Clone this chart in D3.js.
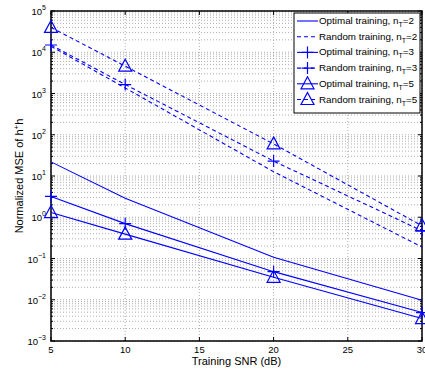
<!DOCTYPE html>
<html>
<head>
<meta charset="utf-8">
<script src="https://cdn.jsdelivr.net/npm/d3@7"></script>
<style>
  body { margin: 0; background: #fff; }
  svg { display: block; font-family: "Liberation Sans", Arial, sans-serif; }
</style>
</head>
<body>
<div id="chart"></div>
<script>
// SNR points (dB)
const snr = [5, 10, 20, 30];
// normalized MSE values
const optimal2 = [22, 2.9, 0.107, 0.0097];
const random2 = [14000, 1360, 12.7, 0.19];
const optimal3 = [3.2, 0.7, 0.048, 0.0049];
const random3 = [15000, 1650, 23, 0.47];
const optimal5 = [1.3, 0.39, 0.035, 0.0035];
const random5 = [40000, 4600, 60, 0.62];
const xTicks = [5, 10, 15, 20, 25, 30];
const yExps = [-3, -2, -1, 0, 1, 2, 3, 4, 5];

const series = [
  {name: 'Optimal training, n', nt: '2', values: optimal2, dash: null, marker: null},
  {name: 'Random training, n', nt: '2', values: random2, dash: '4,3', marker: null},
  {name: 'Optimal training, n', nt: '3', values: optimal3, dash: null, marker: 'plus'},
  {name: 'Random training, n', nt: '3', values: random3, dash: '4,3', marker: 'plus'},
  {name: 'Optimal training, n', nt: '5', values: optimal5, dash: null, marker: 'tri'},
  {name: 'Random training, n', nt: '5', values: random5, dash: '4,3', marker: 'tri'}
];

const W = 425, H = 376;
const margin = {top: 11, right: 3, bottom: 35, left: 51};
const blue = '#0000ff';

const svg = d3.select('#chart').append('svg')
  .attr('width', W).attr('height', H);

const x = d3.scaleLinear().domain([5, 30]).range([margin.left, W - margin.right]);
const y = d3.scaleLog().domain([1e-3, 1e5]).range([H - margin.bottom, margin.top]);

// grid (major x, major + minor y), dotted
const grid = svg.append('g').attr('stroke', '#9a9a9a').attr('stroke-width', 0.8)
  .attr('stroke-dasharray', '1,2');
xTicks.forEach(t => {
  grid.append('line').attr('x1', x(t)).attr('x2', x(t))
    .attr('y1', y.range()[0]).attr('y2', y.range()[1]);
});
const minor = [];
yExps.slice(0, -1).forEach(e => {
  for (let k = 1; k <= 9; k++) minor.push(k * Math.pow(10, e));
});
minor.push(1e5);
minor.forEach(v => {
  grid.append('line').attr('x1', x.range()[0]).attr('x2', x.range()[1])
    .attr('y1', y(v)).attr('y2', y(v));
});

// axes box
const ax = svg.append('g').attr('stroke', '#000').attr('fill', 'none');
ax.append('rect')
  .attr('x', x.range()[0]).attr('y', y.range()[1])
  .attr('width', x.range()[1] - x.range()[0])
  .attr('height', y.range()[0] - y.range()[1])
  .attr('stroke-width', 1.5);

// tick marks, pointing inward
xTicks.forEach(t => {
  ax.append('line').attr('x1', x(t)).attr('x2', x(t))
    .attr('y1', y.range()[0]).attr('y2', y.range()[0] - 4);
  ax.append('line').attr('x1', x(t)).attr('x2', x(t))
    .attr('y1', y.range()[1]).attr('y2', y.range()[1] + 4);
});
minor.forEach(v => {
  const major = Math.abs(Math.log10(v) - Math.round(Math.log10(v))) < 1e-9;
  const len = major ? 4 : 2;
  ax.append('line').attr('x1', x.range()[0]).attr('x2', x.range()[0] + len)
    .attr('y1', y(v)).attr('y2', y(v));
  ax.append('line').attr('x1', x.range()[1]).attr('x2', x.range()[1] - len)
    .attr('y1', y(v)).attr('y2', y(v));
});

// tick labels
svg.append('g').selectAll('text').data(xTicks).join('text')
  .attr('x', d => x(d)).attr('y', y.range()[0] + 12)
  .attr('text-anchor', 'middle').attr('font-size', 9.5)
  .text(d => d);

const yl = svg.append('g').selectAll('text').data(yExps).join('text')
  .attr('x', margin.left - 5).attr('y', d => y(Math.pow(10, d)) + 4)
  .attr('text-anchor', 'end').attr('font-size', 9.5);
yl.append('tspan').text('10');
yl.append('tspan').attr('dy', -5).attr('font-size', 7).text(d => d < 0 ? '\u2212' + (-d) : d);

// axis titles
svg.append('text')
  .attr('x', (x.range()[0] + x.range()[1]) / 2).attr('y', H - 11)
  .attr('text-anchor', 'middle').attr('font-size', 11)
  .text('Training SNR (dB)');

const yt = svg.append('text')
  .attr('transform', `translate(23,${(y.range()[0] + y.range()[1]) / 2}) rotate(-90)`)
  .attr('text-anchor', 'middle').attr('font-size', 11);
yt.append('tspan').text('Normalized MSE of h');
yt.append('tspan').attr('dy', -4).attr('font-size', 8).text('+');
yt.append('tspan').attr('dy', 4).text('h');

// markers
function drawMarker(g, type, cx, cy) {
  if (type === 'plus') {
    g.append('path').attr('d', `M${cx - 6},${cy}H${cx + 6}M${cx},${cy - 6}V${cy + 6}`)
      .attr('stroke', blue).attr('stroke-width', 1.2).attr('fill', 'none');
  } else if (type === 'tri') {
    g.append('path').attr('d', `M${cx},${cy - 7}L${cx + 6.5},${cy + 5}L${cx - 6.5},${cy + 5}Z`)
      .attr('stroke', blue).attr('stroke-width', 1.2).attr('fill', 'none');
  }
}

const line = d3.line().x((d, i) => x(snr[i])).y(d => y(d));
const plot = svg.append('g');
series.forEach(s => {
  plot.append('path').datum(s.values)
    .attr('d', line)
    .attr('fill', 'none').attr('stroke', blue).attr('stroke-width', 1.1)
    .attr('stroke-dasharray', s.dash);
  if (s.marker) {
    s.values.forEach((v, i) => drawMarker(plot, s.marker, x(snr[i]), y(v)));
  }
});

// legend
const lg = svg.append('g');
lg.append('rect').attr('x', 294).attr('y', 13).attr('width', 126).attr('height', 100)
  .attr('fill', '#fff').attr('stroke', '#000').attr('stroke-width', 1);
series.forEach((s, i) => {
  const ly = 21 + i * 15.7;
  lg.append('line').attr('x1', 297).attr('x2', 318).attr('y1', ly).attr('y2', ly)
    .attr('stroke', blue).attr('stroke-width', 1.1).attr('stroke-dasharray', s.dash);
  if (s.marker) drawMarker(lg, s.marker, 307.5, ly);
  const t = lg.append('text').attr('x', 319).attr('y', ly + 3).attr('font-size', 9.8);
  t.append('tspan').text(s.name);
  t.append('tspan').attr('dy', 3).attr('font-size', 7).text('T');
  t.append('tspan').attr('dy', -3).text('=' + s.nt);
});
</script>
</body>
</html>
